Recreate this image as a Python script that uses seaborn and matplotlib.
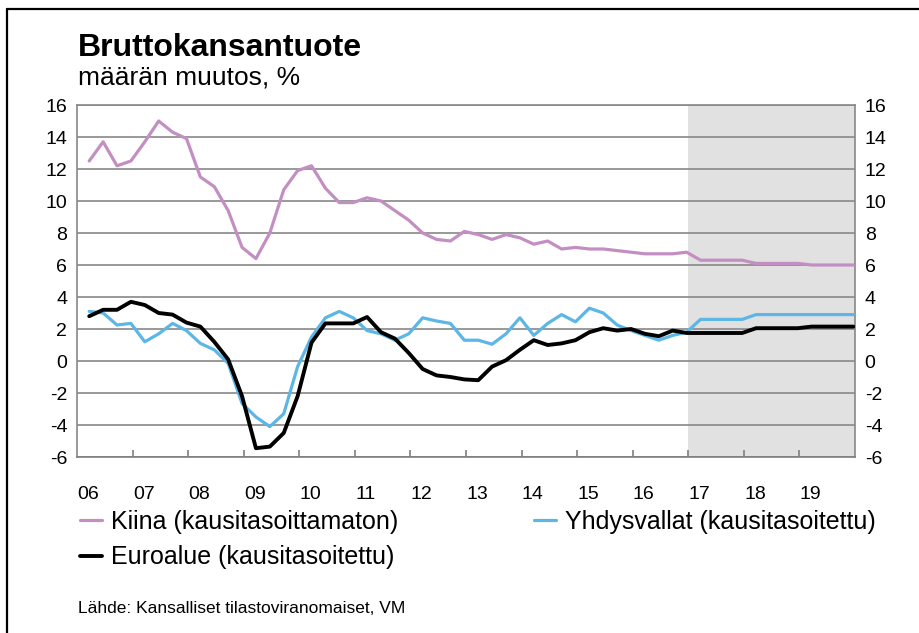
import numpy as np
import pandas as pd
import matplotlib
matplotlib.use("Agg")
import matplotlib.pyplot as plt
from matplotlib.lines import Line2D
import seaborn as sns

# ---- data -------------------------------------------------------------
quarters = pd.period_range("2006Q1", "2019Q4", freq="Q")

china = [12.5, 13.7, 12.2, 12.5, 13.7, 15.0, 14.3, 13.9, 11.5, 10.9, 9.4, 7.1, 6.4, 8.0,
         10.7, 11.9, 12.2, 10.8, 9.9, 9.9, 10.2, 10.0, 9.4, 8.8, 8.0, 7.6, 7.5, 8.1,
         7.9, 7.6, 7.9, 7.7, 7.3, 7.5, 7.0, 7.1, 7.0, 7.0, 6.9, 6.8, 6.7, 6.7,
         6.7, 6.8, 6.3, 6.3, 6.3, 6.3, 6.1, 6.1, 6.1, 6.1, 6.0, 6.0, 6.0, 6.0]
usa = [3.1, 3.0, 2.25, 2.35, 1.2, 1.7, 2.35, 1.9, 1.1, 0.7, -0.15, -2.65, -3.5, -4.1,
       -3.3, -0.35, 1.5, 2.7, 3.1, 2.7, 1.9, 1.7, 1.3, 1.7, 2.7, 2.5, 2.35, 1.3,
       1.3, 1.05, 1.7, 2.7, 1.6, 2.35, 2.9, 2.45, 3.3, 3.0, 2.25, 1.9, 1.6, 1.3,
       1.6, 1.8, 2.6, 2.6, 2.6, 2.6, 2.9, 2.9, 2.9, 2.9, 2.9, 2.9, 2.9, 2.9]
euro = [2.8, 3.2, 3.2, 3.7, 3.5, 3.0, 2.9, 2.4, 2.15, 1.2, 0.1, -2.2, -5.45, -5.35,
        -4.5, -2.2, 1.15, 2.35, 2.35, 2.35, 2.75, 1.8, 1.4, 0.5, -0.5, -0.9, -1.0, -1.15,
        -1.2, -0.35, 0.05, 0.7, 1.3, 1.0, 1.1, 1.3, 1.8, 2.05, 1.9, 2.0, 1.7, 1.55,
        1.9, 1.75, 1.75, 1.75, 1.75, 1.75, 2.05, 2.05, 2.05, 2.05, 2.15, 2.15, 2.15, 2.15]

series_names = ["Kiina (kausitasoittamaton)", "Yhdysvallat (kausitasoitettu)",
                "Euroalue (kausitasoitettu)"]
year_labels = ["06", "07", "08", "09", "10", "11", "12", "13", "14", "15", "16", "17", "18", "19"]
y_ticks = [-6, -4, -2, 0, 2, 4, 6, 8, 10, 12, 14, 16]
forecast_start = 2017

title = "Bruttokansantuote"
subtitle = "määrän muutos, %"
source = "Lähde: Kansalliset tilastoviranomaiset, VM"

# ---- build table ------------------------------------------------------
xpos = quarters.year + (quarters.quarter - 1) / 4 + 0.22
df = pd.concat([
    pd.DataFrame({"x": xpos, "value": china, "series": series_names[0]}),
    pd.DataFrame({"x": xpos, "value": usa, "series": series_names[1]}),
    pd.DataFrame({"x": xpos, "value": euro, "series": series_names[2]}),
])

sns.set_theme(style="white")
plt.rcParams["font.family"] = ["Liberation Sans", "DejaVu Sans"]
plt.rcParams["text.color"] = "black"

fig = plt.figure(figsize=(9.2, 6.33), dpi=100)
ax = fig.add_axes([77 / 920, 1 - 457 / 633, (855 - 77) / 920, (457 - 105) / 633])

colors = {series_names[0]: "#c38fc3", series_names[1]: "#5cb6e6", series_names[2]: "#000000"}
widths = {series_names[0]: 2.3, series_names[1]: 2.3, series_names[2]: 2.8}

ax.axvspan(forecast_start, 2020, color="#e1e1e1", zorder=0, lw=0)
for yv in y_ticks:
    ax.axhline(yv, color="#888888", lw=1.2, zorder=1)

for name in series_names:
    sub = df[df["series"] == name]
    sns.lineplot(data=sub, x="x", y="value", ax=ax, color=colors[name],
                 lw=widths[name], label=name, zorder=3, legend=False)

ax.set_xlim(2006, 2020)
ax.set_ylim(-6, 16)
ax.set_xlabel("")
ax.set_ylabel("")

years = np.arange(2006, 2020)
ax.set_xticks(np.arange(2007, 2020))
ax.set_xticklabels([])
ax.set_xticks(years + 0.2, minor=True)
ax.set_xticklabels(year_labels, minor=True)
ax.tick_params(axis="x", which="major", direction="in", length=5, width=1.2,
               color="#7f7f7f", bottom=True)
ax.tick_params(axis="x", which="minor", length=0, pad=21, labelsize=14, labelcolor="black")

ax.set_yticks(y_ticks)
ax.set_yticklabels([str(v) for v in y_ticks])
ax.tick_params(axis="y", length=0, labelsize=14, labelleft=True, labelright=True,
               pad=7, labelcolor="black")

for s in ["left", "right", "bottom", "top"]:
    ax.spines[s].set_visible(True)
    ax.spines[s].set_color("#888888")
    ax.spines[s].set_linewidth(1.2)
ax.spines["bottom"].set_color("#7f7f7f")

# legend
handles = [Line2D([], [], color=colors[n], lw=widths[n]) for n in series_names]
order = [0, 2, 1]
leg = fig.legend([handles[i] for i in order], [series_names[i] for i in order],
                 loc="upper left", bbox_to_anchor=(80 / 920, 1 - 510 / 633),
                 ncol=2, frameon=False, fontsize=18, handlelength=0.9,
                 handletextpad=0.35, columnspacing=5.4, labelspacing=0.45,
                 borderpad=0, borderaxespad=0, labelcolor="black")

# titles
fig.text(78 / 920, 1 - 56 / 633, title, fontsize=23, fontweight="bold",
         va="baseline", ha="left", color="black")
fig.text(78 / 920, 1 - 84 / 633, subtitle, fontsize=19, va="baseline", ha="left",
         color="black")
fig.text(78 / 920, 1 - 613 / 633, source, fontsize=12.5, va="baseline", ha="left",
         color="black")

# frame (top and left edges visible)
fig.add_artist(Line2D([7 / 920, 7 / 920], [0, 1 - 9 / 633], transform=fig.transFigure,
                      color="black", lw=1.6))
fig.add_artist(Line2D([7 / 920, 1], [1 - 9 / 633, 1 - 9 / 633], transform=fig.transFigure,
                      color="black", lw=1.6))

fig.savefig("out.png", dpi=100)
